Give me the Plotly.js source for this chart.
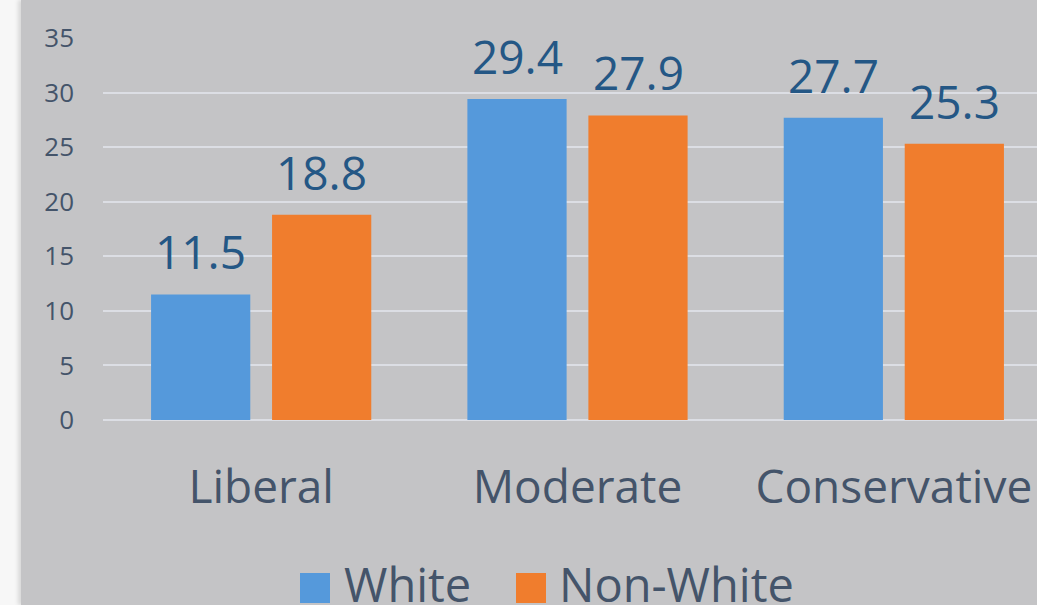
<!DOCTYPE html>
<html>
<head>
<meta charset="utf-8">
<script src="https://cdn.plot.ly/plotly-3.0.1.min.js"></script>
<style>
html,body{margin:0;padding:0;overflow:hidden;background:#f7f7f7;width:1037px;height:605px;}
#chart{position:absolute;left:21px;top:0;box-shadow:-3px 0 4px rgba(0,0,0,0.12);}
</style>
</head>
<body>
<div id="chart"></div>
<script>
const categories = ["Liberal", "Moderate", "Conservative"];
const seriesNames = ["White", "Non-White"];
const whiteValues = [11.5, 29.4, 27.7];
const nonWhiteValues = [18.8, 27.9, 25.3];
const yTickValues = [0, 5, 10, 15, 20, 25, 30, 35];

const colors = ["#5599db", "#f07d2d"];
const labelColor = "#245785";
const axisColor = "#44546a";
const FONT = "Open Sans, sans-serif";

const traces = [
  {type: "bar", name: seriesNames[0], x: categories, y: whiteValues,
   marker: {color: colors[0]}, hoverinfo: "none"},
  {type: "bar", name: seriesNames[1], x: categories, y: nonWhiteValues,
   marker: {color: colors[1]}, hoverinfo: "none"}
];

// plot area in page pixels: x 103..1052, y 38..420
const PL = 103, PR = 1052, PT = 38, PB = 420;
const px = v => (v - PL) / (PR - PL);
const py = v => (PB - v) / (PB - PT);

const annotations = [];
[whiteValues, nonWhiteValues].forEach((vals, s) => {
  vals.forEach((v, i) => {
    annotations.push({
      x: categories[i], y: v, xref: "x", yref: "y",
      xshift: s === 0 ? -60.5 : 60.5, yshift: 10,
      yanchor: "bottom", showarrow: false,
      text: v.toFixed(1),
      font: {family: FONT, size: 46, color: labelColor}
    });
  });
});

// custom legend
const legendItems = [
  {sq: 300, tx: 342},
  {sq: 516, tx: 557}
];
const shapes = [];
legendItems.forEach((it, i) => {
  shapes.push({type: "rect", xref: "paper", yref: "paper",
    x0: px(it.sq), x1: px(it.sq + 30), y0: py(603), y1: py(573),
    fillcolor: colors[i], line: {width: 0}});
  annotations.push({xref: "paper", yref: "paper", x: px(it.tx), y: py(584),
    xanchor: "left", yanchor: "middle", showarrow: false,
    text: seriesNames[i],
    font: {family: FONT, size: 47, color: axisColor}});
});

const layout = {
  width: 1040, height: 605,
  margin: {l: 82, r: 9, t: 38, b: 185, pad: 0},
  paper_bgcolor: "#c4c4c6", plot_bgcolor: "#c4c4c6",
  barmode: "group", bargap: 0.235, bargroupgap: 0.18,
  showlegend: false,
  xaxis: {
    type: "category", showgrid: false, zeroline: false, showline: false, ticks: "",
    tickfont: {family: FONT, size: 46, color: axisColor},
    ticklabelstandoff: 36
  },
  yaxis: {
    range: [0, 35], tickvals: yTickValues, showgrid: true,
    gridcolor: "#dcdee4", gridwidth: 2, zeroline: true, zerolinecolor: "#dcdee4",
    zerolinewidth: 2, showline: false, ticks: "",
    tickfont: {family: FONT, size: 26, color: axisColor},
    ticklabelstandoff: 28
  },
  annotations: annotations,
  shapes: shapes
};

Plotly.newPlot("chart", traces, layout, {displayModeBar: false, staticPlot: true});
</script>
</body>
</html>
